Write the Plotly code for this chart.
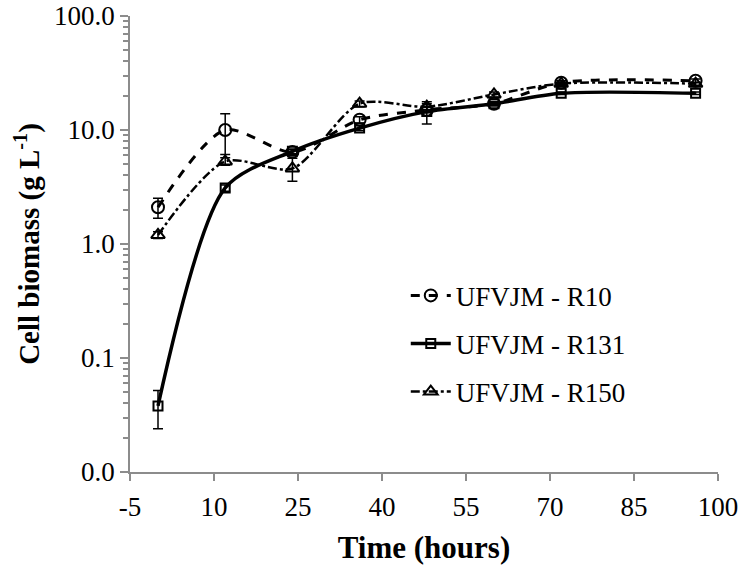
import plotly.graph_objects as go

time_h = [0, 12, 24, 36, 48, 60, 72, 96]
r10 = [2.1, 10.0, 6.4, 12.3, 15.0, 17.0, 26.0, 27.0]
r10_err = [0.42, 3.9, 0.3, 0.8, 0.8, 0.8, 1.0, 1.0]
r131 = [0.038, 3.1, 6.5, 10.4, 14.5, 17.0, 21.0, 21.0]
r131_err = [0.014, 0.2, 0.3, 0.5, 3.2, 0.5, 0.5, 0.5]
r150 = [1.2, 5.3, 4.6, 17.0, 16.0, 20.5, 25.5, 25.5]
r150_err = [0.08, 0.4, 1.05, 1.0, 1.0, 1.0, 0.8, 0.8]

names = ["UFVJM - R10", "UFVJM - R131", "UFVJM - R150"]
y_tickvals = [0.01, 0.1, 1, 10, 100]
y_ticktext = ["0.0", "0.1", "1.0", "10.0", "100.0"]
y_minor_vals = [m * d for d in [0.01, 0.1, 1, 10] for m in range(2, 10)]
x_tickvals = [-5, 10, 25, 40, 55, 70, 85, 100]
x_ticktext = ["-5", "10", "25", "40", "55", "70", "85", "100"]

FONT = "Liberation Serif"
AX = "#8c8c8c"

fig = go.Figure()
series = [
    (r10, r10_err, names[0], "dash", 3, "circle-open", 12),
    (r131, r131_err, names[1], "solid", 3.5, "square-open", 9),
    (r150, r150_err, names[2], "dashdot", 2.5, "triangle-up-open", 12),
]
for i, (vals, errs, name, dash, lw, sym, ms) in enumerate(series):
    fig.add_trace(go.Scatter(
        x=time_h, y=vals, name=name, mode="lines+markers",
        line=dict(color="black", width=lw, dash=dash, shape="spline", smoothing=0.8),
        marker=dict(symbol=sym, size=ms, color="black", line=dict(width=2, color="black")),
        error_y=dict(type="data", array=errs, visible=True, color="black", thickness=1.5, width=5),
        legendgroup=f"g{i}",
    ))

fig.update_layout(
    width=747, height=568,
    margin=dict(l=130, r=29, t=16, b=96),
    paper_bgcolor="white", plot_bgcolor="white",
    font=dict(family=FONT, color="black", size=27),
    showlegend=True,
    legend=dict(x=0.469, y=0.44, xanchor="left", yanchor="top",
                bgcolor="rgba(0,0,0,0)", font=dict(size=27, family=FONT),
                tracegroupgap=10, itemwidth=40),
)
fig.update_xaxes(
    range=[-5, 100], tickvals=x_tickvals, ticktext=x_ticktext,
    showgrid=False, zeroline=False, automargin=False,
    showline=True, linecolor=AX, linewidth=1.5,
    ticks="outside", ticklen=7, tickcolor=AX, tickwidth=1.5,
    tickfont=dict(size=27, family=FONT), ticklabelstandoff=3,
    ticklabeloverflow="allow",
    title=dict(text="<b>Time (hours)</b>", font=dict(size=31, family=FONT), standoff=15),
)
fig.update_yaxes(
    type="log", range=[-2, 2], tickvals=y_tickvals, ticktext=y_ticktext,
    showgrid=False, zeroline=False, automargin=False,
    showline=True, linecolor=AX, linewidth=1.5,
    ticks="outside", ticklen=8, tickcolor=AX, tickwidth=1.5,
    tickfont=dict(size=27, family=FONT), ticklabeloverflow="allow",
    minor=dict(tickvals=y_minor_vals, ticks="outside", ticklen=5,
               tickcolor=AX, tickwidth=1.5, showgrid=False),
    title=dict(text="<b>Cell biomass (g L<sup>-1</sup>)</b>", font=dict(size=29, family=FONT), standoff=6),
)

fig.write_html("out.html", config={"displayModeBar": False},
               post_script="document.body.style.margin='0px';")
